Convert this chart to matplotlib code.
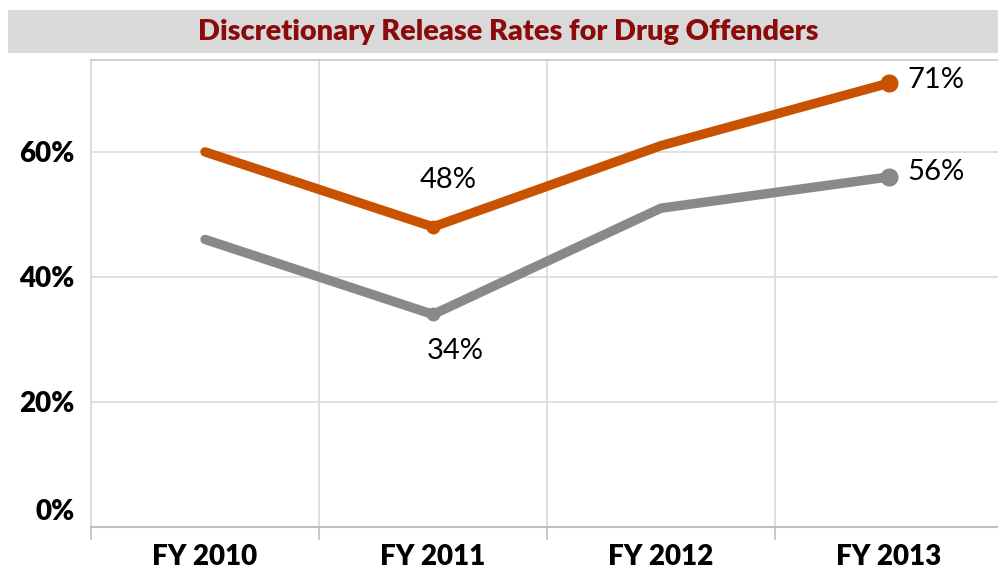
import matplotlib.pyplot as plt
from matplotlib.patches import Rectangle
from matplotlib.transforms import ScaledTranslation

years = ['FY 2010', 'FY 2011', 'FY 2012', 'FY 2013']
orange_vals = [60, 48, 61, 71]
gray_vals = [46, 34, 51, 56]
y_ticks = [0, 20, 40, 60]

orange = '#C85200'
gray = '#898989'
grid_c = '#D9D9D9'

plt.rcParams['font.family'] = ['Lato', 'DejaVu Sans']

fig = plt.figure(figsize=(9.98, 5.72), dpi=100)
fig.patches.append(Rectangle((8 / 998, 1 - 53 / 572), 1 - 8 / 998, 43 / 572,
                             transform=fig.transFigure, facecolor=grid_c,
                             edgecolor='none', zorder=0))
fig.text(0.509, 1 - 32 / 572, 'Discretionary Release Rates for Drug Offenders',
         ha='center', va='center', fontsize=20.8, fontweight='heavy', color='#8B0A0A')

# plot area runs slightly past the right edge of the picture
ax = fig.add_axes([91 / 998, 1 - 527 / 572, 912 / 998, (527 - 60) / 572])
x = list(range(len(years)))

for vals, col, z in [(gray_vals, gray, 3), (orange_vals, orange, 4)]:
    ax.plot(x, vals, color=col, lw=6.8, solid_capstyle='round',
            solid_joinstyle='round', zorder=z)
    ax.plot(x[1], vals[1], 'o', color=col, markersize=9, zorder=z)
    ax.plot(x[3], vals[3], 'o', color=col, markersize=12, zorder=z)

lab = dict(fontsize=21, color='black')
ax.annotate(f'{orange_vals[1]}%', (1, orange_vals[1]), xytext=(15, 47),
            textcoords='offset pixels', ha='center', va='center', **lab)
ax.annotate(f'{gray_vals[1]}%', (1, gray_vals[1]), xytext=(22, -37),
            textcoords='offset pixels', ha='center', va='center', **lab)
ax.annotate(f'{orange_vals[3]}%', (3, orange_vals[3]), xytext=(18, 3),
            textcoords='offset pixels', ha='left', va='center', **lab)
ax.annotate(f'{gray_vals[3]}%', (3, gray_vals[3]), xytext=(18, 5),
            textcoords='offset pixels', ha='left', va='center', **lab)

ax.set_xlim(-0.5, 3.5)
ax.set_ylim(0, 74.7)

ax.set_yticks(y_ticks)
ax.set_yticklabels([f'{v}%' for v in y_ticks], fontsize=20, fontweight='heavy')
ax.tick_params(axis='y', length=0, pad=12)
zero = ax.get_yticklabels()[0]
zero.set_transform(zero.get_transform() + ScaledTranslation(0, 0.17, fig.dpi_scale_trans))

ax.set_xticks([-0.5, 0.5, 1.5, 2.5, 3.5], minor=False)
ax.set_xticklabels([])
ax.set_xticks(x, minor=True)
ax.set_xticklabels(years, minor=True, fontsize=20, fontweight='heavy')
ax.tick_params(axis='x', which='major', length=9, color='#BFBFBF', width=1.2)
ax.tick_params(axis='x', which='minor', length=0, pad=12)

ax.grid(True, which='major', color=grid_c, lw=1.2)
ax.set_axisbelow(True)
for s in ['left', 'right', 'top']:
    ax.spines[s].set_color(grid_c)
    ax.spines[s].set_linewidth(1.2)
ax.spines['top'].set_color('#C8C8C8')
ax.spines['bottom'].set_color('#BFBFBF')
ax.spines['bottom'].set_linewidth(1.5)

fig.savefig('out.png', dpi=100)
